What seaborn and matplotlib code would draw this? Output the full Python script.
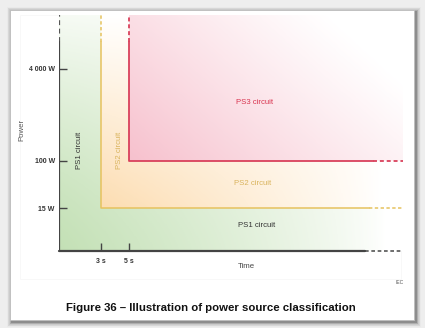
import numpy as np
import pandas as pd
import matplotlib
matplotlib.use("Agg")
import matplotlib.pyplot as plt
from matplotlib.colors import LinearSegmentedColormap
from matplotlib.patches import Rectangle
import seaborn as sns

# ---- data ----
time_ticks = [3, 5]
time_labels = ["3 s", "5 s"]
power_ticks = [15, 100, 4000]
power_labels = ["15 W", "100 W", "4 000 W"]
classes = ["PS1", "PS2", "PS3"]
class_time = [0, 3, 5]          # start time of each region
class_power = [None, 15, 100]   # lower power bound of each region
x_range = [0, 24.6]
y_range = [2.67, 35000]

sns.set_theme(style="white")
plt.rcParams["font.family"] = ["Liberation Sans", "DejaVu Sans"]

W, H = 425, 328
fig = plt.figure(figsize=(W / 100, H / 100), dpi=100)
fig.patch.set_facecolor("#eeeeee")

# background / frame axes in pixel coordinates
bg = fig.add_axes([0, 0, 1, 1])
bg.set_xlim(0, W)
bg.set_ylim(H, 0)
bg.axis("off")
# shadow
for i, a in enumerate(np.linspace(0.02, 0.10, 8)):
    d = 8 - i
    bg.add_patch(Rectangle((10 - d * 0.6 + 2, 10 - d * 0.6 + 2), 404 + d * 1.2, 310 + d * 1.2,
                           facecolor="black", alpha=a, edgecolor="none", zorder=1))
bg.add_patch(Rectangle((10, 10), 404, 310, facecolor="white", edgecolor="#bdbdbd", lw=0.6, zorder=2))
bg.add_patch(Rectangle((20, 15), 381, 264, facecolor="none", edgecolor="#f6f6f6", lw=0.5, zorder=3))
bg.text(211, 308, "Figure 36 \u2013 Illustration of power source classification",
        ha="center", va="center", fontsize=8.2, fontweight="bold", color="#111111", zorder=4)
bg.text(400, 282, "IEC", ha="center", va="center", fontsize=3.6, color="#555555", zorder=4)
bg.text(22, 130, "Power", ha="center", va="center", rotation=90, fontsize=5.6, color="#555555", zorder=4)
bg.text(246, 267, "Time", ha="center", va="center", fontsize=5.6, color="#444444", zorder=4)

# main diagram axes
x0, x1, ytop, ybot = 59, 403, 15, 251
ax = fig.add_axes([x0 / W, (H - ybot) / H, (x1 - x0) / W, (ybot - ytop) / H])
ax.set_facecolor("none")
ax.set_axisbelow(False)
ax.set_yscale("log")
ax.set_xlim(*x_range)
ax.set_ylim(*y_range)

# gradient fills
nx, ny = 300, 240
xs = np.linspace(x_range[0], x_range[1], nx)
ys = np.geomspace(y_range[0], y_range[1], ny)
U = (xs - x_range[0]) / (x_range[1] - x_range[0])
V = (np.log(ys) - np.log(y_range[0])) / (np.log(y_range[1]) - np.log(y_range[0]))
UU, VV = np.meshgrid(U, V)
XX, YY = np.meshgrid(xs, ys)

def fill(mask, inten, color, z):
    cmap = LinearSegmentedColormap.from_list("c", ["#ffffff", color])
    data = np.ma.masked_where(~mask, np.clip(inten, 0, 1))
    ax.pcolormesh(xs, ys, data, cmap=cmap, vmin=0, vmax=1, shading="nearest",
                  zorder=z, rasterized=True, linewidth=0)

# PS1 green
inten1 = np.clip(1 - UU / 0.95, 0, 1) ** 0.8 * np.clip(1 - 0.85 * VV ** 1.3, 0, 1)
fill(np.ones_like(UU, bool), inten1, "#c3e0b5", 1)
# PS2 orange
mask2 = (XX >= class_time[1]) & (YY >= class_power[1])
inten2 = np.clip(1 - (UU - 0.12) / 0.82, 0, 1) ** 0.9 * np.clip(1 - ((VV - 0.18) / 0.82), 0, 1)
fill(mask2, inten2, "#fcdcb0", 2)
# PS3 pink
mask3 = (XX >= class_time[2]) & (YY >= class_power[2])
inten3 = np.clip(1 - 0.75 * (UU - 0.2) / 0.8 - 0.45 * (VV - 0.37) / 0.63, 0, 1) ** 1.1
fill(mask3, inten3, "#f6bfcc", 3)

# boundary lines (solid parts) via seaborn
ytop_solid = np.exp(np.log(y_range[0]) + 0.886 * (np.log(y_range[1]) - np.log(y_range[0])))
xsolid2 = x_range[0] + 0.90 * (x_range[1] - x_range[0])
xsolid3 = x_range[0] + 0.913 * (x_range[1] - x_range[0])
xsolid1 = x_range[0] + 0.89 * (x_range[1] - x_range[0])
line_colors = {"PS2": "#e6c25e", "PS3": "#d9415c"}
df2 = pd.DataFrame({"t": [class_time[1], class_time[1], xsolid2],
                    "p": [ytop_solid, class_power[1], class_power[1]]})
df3 = pd.DataFrame({"t": [class_time[2], class_time[2], xsolid3],
                    "p": [ytop_solid, class_power[2], class_power[2]]})
sns.lineplot(data=df2, x="t", y="p", ax=ax, sort=False, estimator=None,
             color=line_colors["PS2"], lw=1.1, zorder=5)
sns.lineplot(data=df3, x="t", y="p", ax=ax, sort=False, estimator=None,
             color=line_colors["PS3"], lw=1.3, zorder=5)
# dashed extensions
dash = dict(ls=(0, (2.2, 1.6)), zorder=5)
for t, c, lw in [(x_range[0], "#555555", 1.6), (class_time[1], line_colors["PS2"], 1.1),
                 (class_time[2], line_colors["PS3"], 1.3)]:
    ax.plot([t, t], [ytop_solid, y_range[1]], color=c, lw=lw, **dash)
ax.plot([x_range[0], x_range[0]], [y_range[0], ytop_solid], color="#444444", lw=1.6, zorder=6)
ax.plot([x_range[0], xsolid1], [y_range[0], y_range[0]], color="#444444", lw=1.6, zorder=6,
        clip_on=False)
ax.plot([xsolid1, x_range[1]], [y_range[0], y_range[0]], color="#555555", lw=1.2, clip_on=False, **dash)
ax.plot([xsolid2, x_range[1]], [class_power[1]] * 2, color=line_colors["PS2"], lw=1.1, **dash)
ax.plot([xsolid3, x_range[1]], [class_power[2]] * 2, color=line_colors["PS3"], lw=1.3, **dash)

for s in ax.spines.values():
    s.set_visible(False)
ax.set_xticks(time_ticks)
ax.set_xticklabels(time_labels)
ax.set_yticks(power_ticks)
ax.set_yticklabels(power_labels)
ax.yaxis.set_minor_locator(matplotlib.ticker.NullLocator())
ax.tick_params(axis="both", which="major", left=True, bottom=True, direction="in", length=6,
               width=1.0, color="#444444", labelsize=5.0, labelcolor="#333333", pad=3)
ax.tick_params(axis="x", pad=5)
for lab in ax.get_xticklabels() + ax.get_yticklabels():
    lab.set_fontweight("bold")
ax.set_xlabel("")
ax.set_ylabel("")

# region labels
ax.text(1.45, 150, "PS1 circuit", rotation=90, ha="center", va="center", fontsize=5.6, color="#333333", zorder=7)
ax.text(4.35, 150, "PS2 circuit", rotation=90, ha="center", va="center", fontsize=5.6, color="#d9b35c", zorder=7)
ax.text(13.95, 1050, "PS3 circuit", ha="center", va="center", fontsize=5.6, color="#d9344f", zorder=7)
ax.text(13.85, 40, "PS2 circuit", ha="center", va="center", fontsize=5.6, color="#d9b35c", zorder=7)
ax.text(14.1, 7.3, "PS1 circuit", ha="center", va="center", fontsize=5.6, color="#333333", zorder=7)

fig.savefig("out.png", dpi=100, facecolor=fig.get_facecolor())
